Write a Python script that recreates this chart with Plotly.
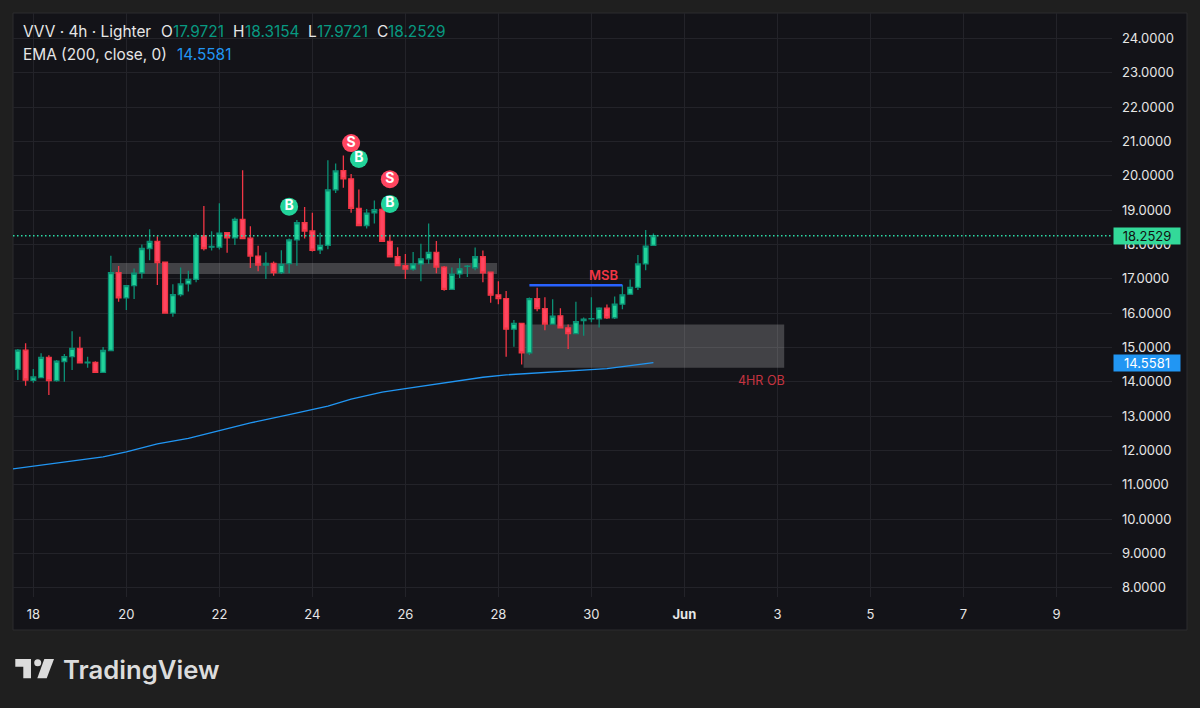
import pandas as pd
import plotly.graph_objects as go

# 4h bars of VVV, first bar 17 May 16:00
first_bar = pd.Timestamp("2025-05-17 16:00")
opens = [14.36,14.92,14.04,14.12,14.71,14.03,14.59,14.73,14.97,14.55,14.56,14.27,14.91,17.18,16.44,16.80,17.17,17.88,18.09,17.48,
         16.00,16.54,16.85,16.98,18.25,17.92,17.92,18.34,18.19,18.73,18.18,17.66,17.40,17.45,17.18,17.44,18.13,18.63,18.39,17.84,
         17.97,19.59,20.15,19.91,19.05,18.55,18.92,19.02,18.09,17.64,17.38,17.28,17.43,17.58,17.77,17.34,16.69,17.14,17.36,17.32,
         17.64,17.19,16.53,16.42,15.53,15.70,14.84,16.42,16.13,15.68,15.92,15.57,15.40,15.78,15.83,15.83,16.14,15.86,16.26,16.55,
         16.75,17.43,17.9721]
highs = [14.95,15.12,14.37,14.83,14.77,14.63,14.81,15.47,15.31,14.73,14.60,15.01,17.67,17.37,16.80,17.30,18.00,18.44,18.24,17.50,
         16.84,17.33,17.23,18.32,19.12,18.38,19.20,18.34,18.78,20.16,18.53,17.96,17.77,17.50,17.83,18.17,18.71,19.09,18.92,18.34,
         20.45,20.36,20.59,20.05,19.60,19.03,19.28,19.15,18.28,17.92,17.72,17.78,18.02,18.61,18.10,17.37,17.33,17.60,17.40,17.91,
         17.82,17.21,16.93,16.64,15.80,15.70,16.45,16.74,16.46,16.40,16.14,15.67,16.33,15.87,16.46,16.17,16.25,16.48,16.82,16.98,
         17.69,18.42,18.3154]
lows = [14.05,13.88,13.97,14.12,13.61,14.00,14.00,14.34,14.55,14.41,14.27,14.27,14.91,16.33,16.09,16.41,17.01,17.54,16.82,16.00,
        15.89,16.48,16.63,16.90,17.82,17.82,17.85,17.76,17.98,18.15,17.31,17.22,16.99,17.09,17.14,17.16,17.38,18.17,17.79,17.72,
        17.86,19.50,19.65,18.92,18.55,18.46,18.61,18.09,17.64,17.38,16.99,17.23,16.93,17.43,17.16,16.65,16.69,17.02,17.05,17.25,
        16.90,16.30,16.26,14.73,15.02,14.50,14.78,16.05,15.50,15.68,15.55,14.95,15.40,15.34,15.73,15.58,15.83,15.83,16.11,16.55,
        16.67,17.25,17.9721]
closes = [14.92,14.05,14.14,14.71,14.03,14.60,14.73,14.97,14.55,14.57,14.27,14.91,17.18,16.44,16.80,17.16,17.88,18.09,17.47,16.00,
          16.54,16.85,16.98,18.25,17.88,17.94,18.33,18.19,18.73,18.17,17.66,17.40,17.45,17.18,17.42,18.13,18.63,18.39,17.83,17.97,
          19.59,20.14,19.91,19.05,18.55,18.91,19.01,18.09,17.64,17.38,17.28,17.43,17.58,17.77,17.34,16.69,17.13,17.29,17.37,17.64,
          17.17,16.52,16.42,15.53,15.70,14.84,16.42,16.13,15.68,15.91,15.57,15.40,15.75,15.82,15.84,16.14,15.86,16.26,16.53,16.75,
          17.43,17.95,18.2529]
bar_times = [first_bar + pd.Timedelta(hours=4 * i) for i in range(len(opens))]

# EMA(200) sampled at a subset of bars (index -1 lies before the first bar)
ema_bars = [-1,5,11,14,18,22,26,30,35,40,43,47,50,54,60,63,66,72,76,79,82]
ema_values = [11.45,11.64,11.81,11.96,12.19,12.35,12.57,12.80,13.04,13.29,13.49,13.70,13.80,13.94,14.13,14.20,14.24,14.32,14.38,14.47,14.5581]
ema_times = [first_bar + pd.Timedelta(hours=4 * i) for i in ema_bars]

# Buy / sell signals
signal_bars = [35, 43, 44, 48, 48]
signal_prices = [19.10, 20.95, 20.49, 19.90, 19.18]
signal_labels = ["B", "S", "B", "S", "B"]

# Market structure break level
msb_bars = [66, 78]
msb_level = 16.81

# Order block zones: start, end, top, bottom
zone_starts = ["2025-05-19 16:30", "2025-05-28 13:00"]
zone_ends = ["2025-05-27 23:20", "2025-06-03 03:30"]
zone_tops = [17.46, 15.67]
zone_bottoms = [17.14, 14.41]

last_price = 18.2529
ema_last = 14.5581

x_tick_dates = ["2025-05-18","2025-05-20","2025-05-22","2025-05-24","2025-05-26","2025-05-28","2025-05-30",
                "2025-06-01","2025-06-03","2025-06-05","2025-06-07","2025-06-09"]
x_tick_labels = ["18","20","22","24","26","28","30","<b>Jun</b>","3","5","7","9"]

PAGE = "#1f1f1f"
PANEL = "#131318"
GRID = "#232329"
GREEN = "#22d39a"
GREEN_EDGE = "#0b8f74"
RED = "#ff4560"
RED_EDGE = "#f23645"
BLUE = "#2196f3"
TEXT = "#e6e6e6"
FONT = "Inter"

# Plot area in page pixels
L, R, T, B = 13, 1112, 13, 597


def px(x):
    return (x - L) / (R - L)


def py(y):
    return (B - y) / (B - T)


fig = go.Figure()
fig.add_trace(go.Candlestick(
    x=bar_times, open=opens, high=highs, low=lows, close=closes,
    increasing=dict(fillcolor=GREEN, line=dict(color=GREEN_EDGE, width=1.3)),
    decreasing=dict(fillcolor=RED, line=dict(color=RED_EDGE, width=1.3)),
    hoverinfo="skip", showlegend=False,
))
fig.add_trace(go.Scatter(
    x=ema_times, y=ema_values, mode="lines",
    line=dict(color=BLUE, width=1.3), hoverinfo="skip", showlegend=False,
))
fig.add_trace(go.Scatter(
    x=[first_bar + pd.Timedelta(hours=4 * i) for i in msb_bars], y=[msb_level] * len(msb_bars),
    mode="lines", line=dict(color="#2962ff", width=2.5), hoverinfo="skip", showlegend=False,
))
fig.add_trace(go.Scatter(
    x=[first_bar + pd.Timedelta(hours=4 * i) for i in signal_bars], y=signal_prices,
    mode="markers+text", text=signal_labels, textposition="middle center",
    marker=dict(size=18, color=[GREEN if s == "B" else RED for s in signal_labels], line=dict(width=0)),
    textfont=dict(family=FONT, size=14, color="#ffffff", weight=700),
    hoverinfo="skip", showlegend=False,
))

shapes = [
    # panel behind the plot area and price scale
    dict(type="rect", xref="paper", yref="paper", x0=px(13), x1=px(1187), y0=py(13), y1=py(630),
         fillcolor=PANEL, line=dict(color="#2c2c2e", width=1), layer="below"),
    # last price level
    dict(type="line", xref="paper", yref="y", x0=0, x1=1, y0=last_price, y1=last_price,
         line=dict(color="#2bdca6", width=1.4, dash="1.5px,2.5px"), layer="above"),
]
for x0, x1, top, bottom in zip(zone_starts, zone_ends, zone_tops, zone_bottoms):
    shapes.append(dict(type="rect", xref="x", yref="y", x0=x0, x1=x1, y0=bottom, y1=top,
                       fillcolor="rgba(255,255,255,0.2)", line=dict(width=0), layer="between"))

# TradingView logo mark
shapes.append(dict(type="path", xref="paper", yref="paper", line=dict(width=0), fillcolor="#dcdcdc", path=(
    f"M{px(15.3)},{py(659)} L{px(31)},{py(659)} L{px(31)},{py(678.3)} L{px(23.3)},{py(678.3)} "
    f"L{px(23.3)},{py(666.7)} L{px(15.3)},{py(666.7)} Z")))
shapes.append(dict(type="path", xref="paper", yref="paper", line=dict(width=0), fillcolor="#dcdcdc", path=(
    f"M{px(44.3)},{py(659)} L{px(54)},{py(659)} L{px(46.7)},{py(678.3)} L{px(37.3)},{py(678.3)} Z")))
shapes.append(dict(type="circle", xref="paper", yref="paper", x0=px(34.2), x1=px(41.2), y0=py(666.2), y1=py(659.2),
                   fillcolor="#dcdcdc", line=dict(width=0)))


def label(x, y, text, color=TEXT, size=15.4, **kw):
    # annotation boxes carry 2px of padding on the left
    return dict(xref="paper", yref="paper", x=px(x - 2), y=py(y), text=text, showarrow=False,
                xanchor="left", yanchor="middle", font=dict(family=FONT, size=size, color=color, **kw))


HEAD_GREEN = "#089981"
annotations = [
    label(23, 32, "VVV · 4h · Lighter"),
    label(161, 32, "O"), label(173, 32, f"{opens[-1]:.4f}", HEAD_GREEN),
    label(233, 32, "H"), label(245, 32, f"{highs[-1]:.4f}", HEAD_GREEN),
    label(308, 32, "L"), label(317, 32, f"{lows[-1]:.4f}", HEAD_GREEN),
    label(377, 32, "C"), label(388, 32, f"{closes[-1]:.4f}", HEAD_GREEN),
    label(23, 55, "EMA (200, close, 0)"),
    label(177, 55, f"{ema_last:.4f}", BLUE),
    label(63, 669, "TradingView", "#dcdcdc", 25.7, weight=600),
    dict(xref="x", yref="y", x="2025-05-30 06:00", y=17.11, text="MSB", showarrow=False,
         font=dict(family=FONT, size=13, color=RED_EDGE, weight=600)),
    dict(xref="x", yref="y", x="2025-06-02 16:00", y=14.05, text="4HR OB", showarrow=False,
         font=dict(family=FONT, size=12.5, color="#c53340")),
    # price scale tags
    dict(xref="paper", yref="y", x=px(1113), y=last_price, xanchor="left", text=f"{last_price:.4f}", showarrow=False,
         width=66, height=16, bgcolor="#33d999", borderpad=0, align="center",
         font=dict(family=FONT, size=13, color="#111111")),
    dict(xref="paper", yref="y", x=px(1113), y=ema_last, xanchor="left", text=f"{ema_last:.4f}", showarrow=False,
         width=66, height=16, bgcolor=BLUE, borderpad=0, align="center",
         font=dict(family=FONT, size=13, color="#ffffff")),
]

fig.update_layout(
    width=1200, height=708,
    margin=dict(l=L, r=1200 - R, t=T, b=708 - B, autoexpand=False),
    paper_bgcolor=PAGE, plot_bgcolor=PANEL,
    shapes=shapes, annotations=annotations,
    font=dict(family=FONT, color=TEXT),
    showlegend=False, hovermode=False, boxgap=0.12,
    xaxis=dict(
        type="date", range=["2025-05-17 13:30", "2025-06-10 04:40"],
        tickmode="array", tickvals=x_tick_dates, ticktext=x_tick_labels, ticks="",
        showgrid=True, gridcolor=GRID, gridwidth=1, zeroline=False, showline=False,
        rangeslider=dict(visible=False), tickangle=0, ticklabelstandoff=8,
        tickfont=dict(family=FONT, size=13, color=TEXT),
    ),
    yaxis=dict(
        side="right", range=[7.73, 24.74], tick0=8, dtick=1, tickformat=".4f", ticks="",
        showgrid=True, gridcolor=GRID, gridwidth=1, zeroline=False, showline=False,
        ticklabelstandoff=9, tickfont=dict(family=FONT, size=13, color=TEXT),
    ),
)

fig.write_html("out.html")
